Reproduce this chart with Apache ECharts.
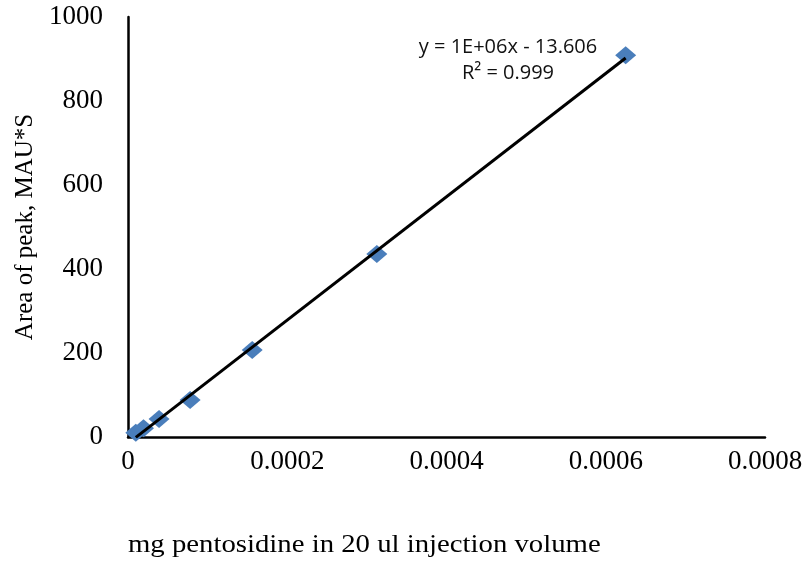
<!DOCTYPE html>
<html>
<head>
<meta charset="utf-8">
<script src="https://cdn.jsdelivr.net/npm/echarts@6/dist/echarts.min.js"></script>
<style>
  html, body { margin: 0; padding: 0; background: #fff; }
  #main { width: 806px; height: 569px; }
</style>
</head>
<body>
<div id="main"></div>
<script>
// mg pentosidine in 20 ul injection volume
var concentration = [0.0000098, 0.0000195, 0.000039, 0.000078, 0.000156, 0.0003125, 0.000625];
// peak area, MAU*S
var peakArea = [10, 21, 43, 88, 207, 436, 909];
var xTicks = [0, 0.0002, 0.0004, 0.0006, 0.0008];
var yTicks = [0, 200, 400, 600, 800, 1000];
var equationLines = ['y = 1E+06x - 13.606', 'R² = 0.999'];

// linear least squares, like the excel trendline
function linearFit(xs, ys) {
  var n = xs.length, sx = 0, sy = 0, sxx = 0, sxy = 0;
  for (var i = 0; i < n; i++) {
    sx += xs[i]; sy += ys[i];
    sxx += xs[i] * xs[i]; sxy += xs[i] * ys[i];
  }
  var slope = (n * sxy - sx * sy) / (n * sxx - sx * sx);
  return { slope: slope, intercept: (sy - slope * sx) / n };
}

var fit = linearFit(concentration, peakArea);
var xMin = Math.min.apply(null, concentration);
var xMax = Math.max.apply(null, concentration);
var trendData = [
  [xMin, fit.slope * xMin + fit.intercept],
  [xMax, fit.slope * xMax + fit.intercept]
];

var points = concentration.map(function (x, i) { return [x, peakArea[i]]; });

var chart = echarts.init(document.getElementById('main'));
var serif = '"Liberation Serif", "Times New Roman", serif';

chart.setOption({
  backgroundColor: '#fff',
  animation: false,
  grid: { left: 128, right: 41, top: 17, bottom: 132 },
  xAxis: {
    type: 'value',
    min: xTicks[0],
    max: xTicks[xTicks.length - 1],
    interval: xTicks[1] - xTicks[0],
    splitLine: { show: false },
    axisTick: { show: false },
    axisLine: { onZero: false, lineStyle: { color: '#000', width: 2.5 } },
    axisLabel: {
      color: '#000', fontFamily: serif, fontSize: 27, margin: 11,
      formatter: function (v) { return v === 0 ? '0' : v.toFixed(4); }
    }
  },
  yAxis: {
    type: 'value',
    min: yTicks[0],
    max: yTicks[yTicks.length - 1],
    interval: yTicks[1] - yTicks[0],
    splitLine: { show: false },
    axisTick: { show: false },
    axisLine: { show: true, lineStyle: { color: '#000', width: 2.5 } },
    axisLabel: {
      color: '#000', fontFamily: serif, fontSize: 27, margin: 25,
      formatter: function (v) { return String(v); }
    },
    name: 'Area of peak, MAU*S',
    nameLocation: 'middle',
    nameGap: 88,
    nameTextStyle: { color: '#000', fontFamily: serif, fontSize: 25 }
  },
  graphic: [
    {
      type: 'text',
      left: 128,
      top: 533,
      scaleX: 1.15,
      style: {
        text: 'mg pentosidine in 20 ul injection volume',
        fill: '#000', font: '25px ' + serif
      }
    },
    {
      type: 'text',
      x: 508,
      y: 34,
      style: {
        text: equationLines.join('\n'),
        fill: '#111', font: '20px "Open Sans", Arial, sans-serif',
        align: 'center', lineHeight: 26
      }
    }
  ],
  series: [
    {
      type: 'scatter',
      data: points,
      symbol: 'diamond',
      symbolSize: [21, 18],
      itemStyle: { color: '#4A7EBB', opacity: 1 },
      z: 2
    },
    {
      type: 'line',
      data: trendData,
      showSymbol: false,
      symbol: 'none',
      lineStyle: { color: '#000', width: 3 },
      z: 3
    }
  ]
});
</script>
</body>
</html>
